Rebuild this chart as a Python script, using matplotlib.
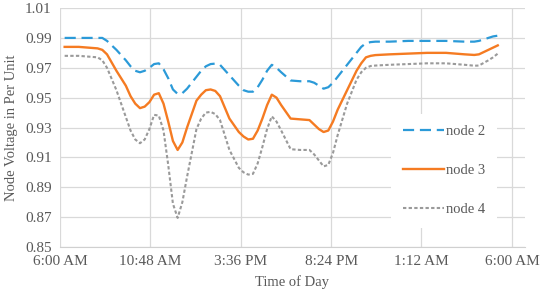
import numpy as np
import matplotlib
matplotlib.use("Agg")
import matplotlib.pyplot as plt

# time of day in hours (6 = 6:00 AM, 24+ = next day)
hours = [6.25, 7.0, 8.0, 8.25, 8.5, 9.0, 9.5, 9.75, 10.0, 10.25,
         10.5, 10.75, 11.0, 11.25, 11.5, 11.75, 12.0, 12.25, 12.5, 12.75,
         13.25, 13.5, 13.75, 14.0, 14.25, 14.5, 15.0, 15.5, 15.75, 16.0,
         16.25, 16.5, 16.75, 17.0, 17.25, 17.5, 17.75, 18.25, 18.75, 19.25,
         19.5, 19.75, 20.0, 20.25, 20.5, 20.75, 21.25, 21.75, 22.0, 22.25,
         22.5, 22.75, 23.5, 24.5, 25.5, 26.5, 27.5, 28.0, 28.25, 28.75,
         29.0, 29.25]

node2 = [0.990, 0.990, 0.990, 0.990, 0.988, 0.982, 0.975, 0.971, 0.968, 0.967,
         0.968, 0.970, 0.9725, 0.973, 0.969, 0.963, 0.9555, 0.9525, 0.953, 0.956,
         0.964, 0.968, 0.971, 0.9725, 0.9728, 0.972, 0.965, 0.958, 0.955, 0.954,
         0.954, 0.957, 0.962, 0.968, 0.972, 0.970, 0.967, 0.9615, 0.961, 0.961,
         0.960, 0.958, 0.956, 0.957, 0.960, 0.964, 0.972, 0.980, 0.984, 0.9865,
         0.9872, 0.9875, 0.9875, 0.988, 0.988, 0.988, 0.9875, 0.9875, 0.988, 0.990,
         0.991, 0.9915]

node3 = [0.984, 0.984, 0.983, 0.982, 0.979, 0.968, 0.958, 0.951, 0.946, 0.943,
         0.944, 0.947, 0.952, 0.953, 0.946, 0.934, 0.921, 0.915, 0.920, 0.930,
         0.948, 0.952, 0.955, 0.9555, 0.9545, 0.951, 0.936, 0.927, 0.924, 0.922,
         0.9225, 0.928, 0.936, 0.945, 0.952, 0.950, 0.945, 0.936, 0.9355, 0.935,
         0.932, 0.929, 0.927, 0.928, 0.934, 0.942, 0.955, 0.968, 0.973, 0.977,
         0.978, 0.9785, 0.979, 0.9795, 0.980, 0.980, 0.979, 0.9786, 0.979, 0.982,
         0.9835, 0.985]

node4 = [0.978, 0.978, 0.977, 0.975, 0.970, 0.955, 0.937, 0.928, 0.922, 0.9195,
         0.922, 0.929, 0.9385, 0.938, 0.928, 0.905, 0.879, 0.8695, 0.880, 0.897,
         0.929, 0.936, 0.940, 0.9405, 0.939, 0.935, 0.915, 0.903, 0.900, 0.8985,
         0.899, 0.906, 0.917, 0.929, 0.9375, 0.934, 0.928, 0.9155, 0.915, 0.915,
         0.912, 0.908, 0.904, 0.905, 0.913, 0.925, 0.946, 0.962, 0.967, 0.970,
         0.9712, 0.9715, 0.972, 0.9725, 0.973, 0.973, 0.972, 0.9714, 0.9715, 0.975,
         0.977, 0.9795]

xticks = [6.0, 10.8, 15.6, 20.4, 25.2, 30.0]
xticklabels = ["6:00 AM", "10:48 AM", "3:36 PM", "8:24 PM", "1:12 AM", "6:00 AM"]
yticks = [0.85, 0.87, 0.89, 0.91, 0.93, 0.95, 0.97, 0.99, 1.01]

plt.rcParams['font.family'] = ['Liberation Serif', 'DejaVu Serif']
txt = '#595959'

fig = plt.figure(figsize=(5.4, 2.98), dpi=100)
ax = fig.add_axes([0.111, 0.171, 0.861, 0.802])

ax.plot(hours, node2, color='#2b9ad8', lw=1.6, dashes=(5, 2.6), label='node 2')
ax.plot(hours, node3, color='#f57b22', lw=1.7, label='node 3')
ax.plot(hours, node4, color='#9a9a9a', lw=1.5, dashes=(1.6, 1.1), label='node 4')

ax.set_xlim(6.0, 30.69)
ax.set_ylim(0.85, 1.01)
ax.set_xticks(xticks)
ax.set_xticklabels(xticklabels)
ax.set_yticks(yticks)
ax.set_yticklabels(["%.2f" % v for v in yticks])
ax.tick_params(length=0, labelsize=11, colors=txt, pad=6)
ax.grid(True, color='#d9d9d9', lw=0.9)
ax.set_axisbelow(True)
for s in ['top', 'right', 'left']:
    ax.spines[s].set_visible(False)
ax.spines['bottom'].set_color('#d0d0d0')

ax.set_xlabel('Time of Day', fontsize=10.5, color=txt, labelpad=5)
ax.set_ylabel('Node Voltage in Per Unit', fontsize=10.5, color=txt, labelpad=5)

leg = ax.legend(loc='center left', bbox_to_anchor=(0.697, 0.07, 0.26, 0.5),
                frameon=True, fontsize=10.5, labelspacing=1.75, handlelength=2.8,
                handletextpad=0.15, borderpad=0.8)
leg.get_frame().set_edgecolor('none')
leg.get_frame().set_facecolor('white')
leg.get_frame().set_alpha(1)
for t in leg.get_texts():
    t.set_color(txt)

fig.savefig('out.png', dpi=100)
